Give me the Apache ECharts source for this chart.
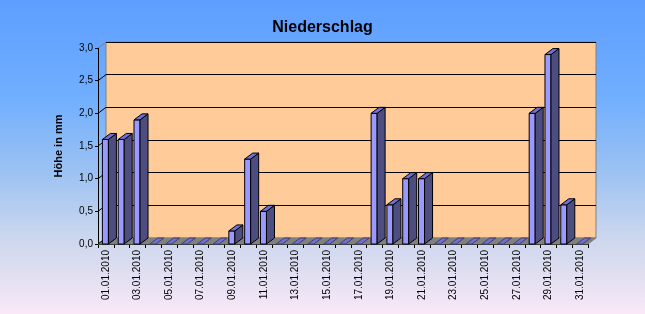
<!DOCTYPE html>
<html><head><meta charset="utf-8">
<script src="https://cdn.jsdelivr.net/npm/echarts@6/dist/echarts.min.js"></script>
<style>html,body{margin:0;padding:0;}#c{width:645px;height:314px;}</style>
</head><body><div id="c"></div>
<script>
const categories = ['01.01.2010','02.01.2010','03.01.2010','04.01.2010','05.01.2010','06.01.2010','07.01.2010','08.01.2010','09.01.2010','10.01.2010','11.01.2010','12.01.2010','13.01.2010','14.01.2010','15.01.2010','16.01.2010','17.01.2010','18.01.2010','19.01.2010','20.01.2010','21.01.2010','22.01.2010','23.01.2010','24.01.2010','25.01.2010','26.01.2010','27.01.2010','28.01.2010','29.01.2010','30.01.2010','31.01.2010'];
const niederschlag = [1.6,1.6,1.9,0,0,0,0,0,0.2,1.3,0.5,0,0,0,0,0,0,2.0,0.6,1.0,1.0,0,0,0,0,0,0,2.0,2.9,0.6,0];
const yTicks = [0,0.5,1.0,1.5,2.0,2.5,3.0];

const DX = 8, DY = 6;
const FONT = "'Liberation Sans', Arial, sans-serif";
const chart = echarts.init(document.getElementById('c'), null, {renderer:'canvas'});

function barItem(params, api) {
  const i = api.value(0), v = api.value(1);
  const top = api.coord([i, v]);
  const base = api.coord([i, 0]);
  const bw = api.size([1, 0])[0] * 0.38;
  const x0 = top[0] - bw / 2 - 0.5, x1 = x0 + bw;
  const ty = top[1], by = base[1];
  const children = [];
  if (by - ty > 0.5) {
    children.push({type:'rect', shape:{x:x0, y:ty, width:bw, height:by-ty},
      style:{fill:'#9999FF', stroke:'#000', lineWidth:1}});
    children.push({type:'polygon', shape:{points:[[x1,ty],[x1+DX,ty-DY],[x1+DX,by-DY],[x1,by]]},
      style:{fill:'#4D4D80', stroke:'#000', lineWidth:1}});
    children.push({type:'polygon', shape:{points:[[x0,ty],[x0+DX,ty-DY],[x1+DX,ty-DY],[x1,ty]]},
      style:{fill:'#7070D8', stroke:'#000', lineWidth:1}});
  } else {
    children.push({type:'polygon', shape:{points:[[x0,ty],[x0+DX,ty-DY],[x1+DX,ty-DY],[x1,ty]]},
      style:{fill:'#7070D8', stroke:'#404060', lineWidth:1}});
  }
  return {type:'group', children};
}

function floorItem(params, api) {
  const cs = params.coordSys;
  const y = api.coord([0, 0])[1];
  const xl = cs.x, xr = cs.x + cs.width;
  return {type:'polygon', shape:{points:[[xl,y],[xr,y],[xr+DX,y-DY],[xl+DX,y-DY]]},
    style:{fill:'#808080', stroke:'#808080', lineWidth:1}};
}

function leftWallItem(params, api) {
  const cs = params.coordSys;
  const v = api.value(1);
  const y = api.coord([0, v])[1];
  const xl = cs.x;
  const last = v === yTicks[yTicks.length-1];
  return {type:'line', shape:{x1:xl, y1:y, x2:xl+DX, y2:y-DY},
    style:{stroke: last ? '#808080' : '#000', lineWidth:1}};
}

const option = {
  animation:false,
  backgroundColor:{type:'linear', x:0, y:0, x2:0, y2:1, colorStops:[
    {offset:0, color:'#5E9EFF'},{offset:0.3, color:'#6FAEFF'},{offset:0.55, color:'#9CC2F2'},
    {offset:0.75, color:'#CBD6EE'},{offset:0.85, color:'#DCDDF0'},{offset:1, color:'#FAE8F8'}]},
  title:{text:'Niederschlag', left:'center', top:15,
    textStyle:{fontFamily:FONT, fontSize:16, fontWeight:'bold', color:'#000'}},
  grid:[
    {left:98, right:57, top:48, bottom:70},
    {left:98+DX, right:57-DX, top:48-DY, bottom:70+DY, show:true, backgroundColor:'#FFCC99', borderColor:'#808080', borderWidth:1}
  ],
  xAxis:[
    {type:'category', gridIndex:0, data:categories, boundaryGap:true,
      axisLine:{show:true, lineStyle:{color:'#000', width:1}},
      axisTick:{show:true, interval:0, length:4, lineStyle:{color:'#000'}},
      axisLabel:{interval:1, rotate:90, fontSize:10, fontFamily:FONT, color:'#000', margin:6},
      splitLine:{show:false}},
    {type:'category', gridIndex:1, data:categories, show:false}
  ],
  yAxis:[
    {type:'value', gridIndex:0, min:0, max:3, interval:0.5,
      name:'Höhe in mm', nameLocation:'middle', nameGap:34, nameRotate:90,
      nameTextStyle:{fontFamily:FONT, fontSize:11, fontWeight:'bold', color:'#000'},
      axisLine:{show:true, lineStyle:{color:'#000', width:1}},
      axisTick:{show:true, length:3, lineStyle:{color:'#000'}},
      axisLabel:{fontSize:10, fontFamily:FONT, color:'#000', margin:5,
        formatter:(v)=>v.toFixed(1).replace('.', ',')},
      splitLine:{show:false}},
    {type:'value', gridIndex:1, min:0, max:3, interval:0.5,
      axisLine:{show:false}, axisTick:{show:false}, axisLabel:{show:false},
      splitLine:{show:true, lineStyle:{color:'#000', width:1}}}
  ],
  series:[
    {type:'custom', xAxisIndex:0, yAxisIndex:0, z:3, renderItem:floorItem, data:[[0,0]], silent:true},
    {type:'custom', xAxisIndex:0, yAxisIndex:0, z:3, renderItem:leftWallItem,
      data: yTicks.map(v=>[0,v]), silent:true},
    {type:'custom', xAxisIndex:0, yAxisIndex:0, z:4, renderItem:barItem,
      data: niederschlag.map((v,i)=>[i,v]), silent:true}
  ]
};
chart.setOption(option);
</script></body></html>
